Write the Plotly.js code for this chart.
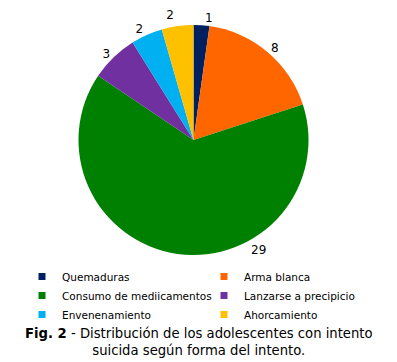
<!DOCTYPE html>
<html>
<head>
<meta charset="utf-8">
<script src="https://cdn.plot.ly/plotly-3.0.1.min.js"></script>
<style>
html,body{margin:0;padding:0;background:#fff;}
#chart{width:397px;height:362px;}
#chart path.textline{display:none;}
</style>
</head>
<body>
<div id="chart"></div>
<script>
var categories = ["Quemaduras", "Arma blanca", "Consumo de mediicamentos", "Lanzarse a precipicio", "Envenenamiento", "Ahorcamiento"];
var values = [1, 8, 29, 3, 2, 2];
var colors = ["#002060", "#FF6600", "#008000", "#7030A0", "#00B0F0", "#FFC000"];
var captionBold = "Fig. 2";
var captionRest = " - Distribución de los adolescentes con intento<br>suicida según forma del intento.";

var W = 397, H = 362;
var cx = 193.5, cy = 140, half = 115;
var FONT = "DejaVu Sans, Verdana, sans-serif";

// the largest slice's label sits at the lower right, as in the original
var bigIdx = values.indexOf(Math.max.apply(null, values));
var textPositions = values.map(function (v, i) { return i === bigIdx ? "none" : "outside"; });

var pie = {
  type: "pie",
  labels: categories,
  values: values,
  marker: {colors: colors, line: {width: 0}},
  sort: false,
  direction: "clockwise",
  rotation: 0,
  textinfo: "value",
  textposition: textPositions,
  textfont: {family: FONT, size: 12, color: "#000"},
  hoverinfo: "label+value",
  showlegend: false,
  domain: {x: [(cx - half) / W, (cx + half) / W], y: [1 - (cy + half) / H, 1 - (cy - half) / H]}
};

// legend entries (one per category)
var legendTraces = categories.map(function (c, i) {
  return {
    type: "scatter", mode: "markers",
    x: [null], y: [null],
    name: c,
    marker: {symbol: "square", size: 7, color: colors[i]},
    showlegend: true, hoverinfo: "skip"
  };
});

var layout = {
  width: W, height: H,
  margin: {l: 0, r: 0, t: 0, b: 0},
  paper_bgcolor: "#fff",
  plot_bgcolor: "#fff",
  xaxis: {visible: false},
  yaxis: {visible: false},
  showlegend: true,
  legend: {
    orientation: "h",
    x: 22 / W, xanchor: "left",
    y: 1 - 262 / H, yanchor: "top",
    entrywidth: 137,
    entrywidthmode: "pixels",
    traceorder: "normal",
    font: {family: FONT, size: 10.5, color: "#000"},
    itemclick: false
  },
  annotations: [{
    text: String(values[bigIdx]),
    xref: "paper", yref: "paper",
    x: 258 / W, y: 1 - 250 / H,
    xanchor: "center", yanchor: "middle",
    showarrow: false,
    font: {family: FONT, size: 12, color: "#000"}
  }, {
    text: "<b>" + captionBold + "</b>" + captionRest,
    xref: "paper", yref: "paper",
    x: 199 / W, y: 1 - 342 / H,
    xanchor: "center", yanchor: "middle",
    showarrow: false,
    align: "center",
    font: {family: FONT, size: 13.2, color: "#000"}
  }]
};

Plotly.newPlot("chart", [pie].concat(legendTraces), layout, {displayModeBar: false, staticPlot: true});
</script>
</body>
</html>
